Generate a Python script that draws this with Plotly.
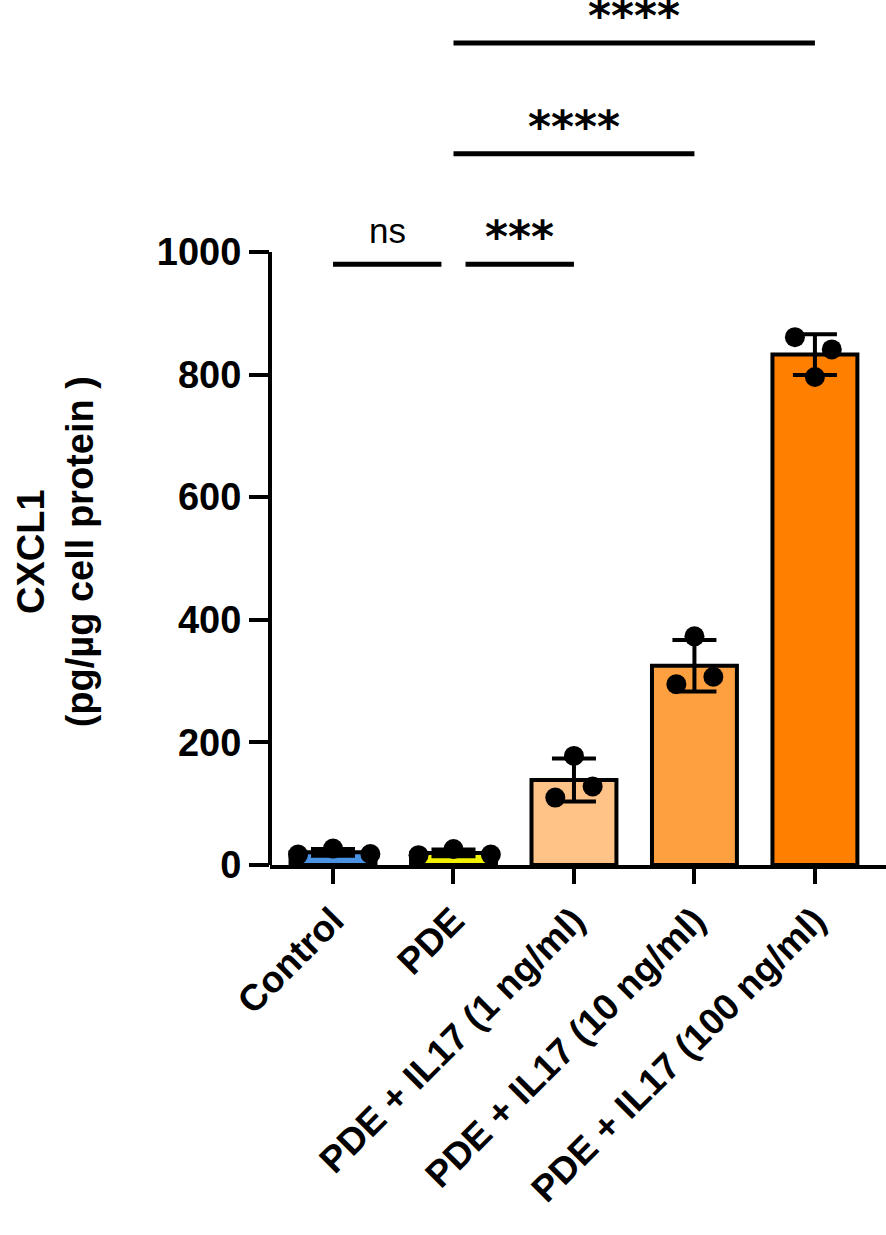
"""CXCL1 release after PDE and IL17 stimulation: bar chart with replicate dots."""

import numpy as np
import plotly.graph_objects as go

# groups on the x axis
groups = ["Control", "PDE", "PDE + IL17 (1 ng/ml)",
          "PDE + IL17 (10 ng/ml)", "PDE + IL17 (100 ng/ml)"]
bar_colors = ["#4A92E4", "#F2F200", "#FFC287", "#FFA040", "#FF8000"]

# three replicates per group (pg/ug cell protein)
control = [17, 27, 18]
pde = [16, 26, 17]
il17_1 = [110, 178, 128]
il17_10 = [295, 373, 307]
il17_100 = [861, 796, 841]
replicates = [control, pde, il17_1, il17_10, il17_100]

# horizontal scatter of the dots inside each bar
jitter = [[-0.29, 0, 0.31], [-0.29, 0, 0.31], [-0.155, 0, 0.155],
          [-0.15, 0, 0.157], [-0.166, 0, 0.14]]

y_ticks = [0, 200, 400, 600, 800, 1000]

# significance brackets: (start group, end group, height, label)
brackets = [
    (0, 0.9, 980, "ns"),
    (1.1, 2, 980, "***"),
    (1, 3, 1160, "****"),
    (1, 4, 1341, "****"),
]

FONT = "Arial, Liberation Sans, sans-serif"

means = [np.mean(r) for r in replicates]
sds = [np.std(r, ddof=1) for r in replicates]
idx = list(range(len(groups)))

fig = go.Figure()
fig.add_bar(
    x=idx, y=means, width=0.705,
    marker=dict(color=bar_colors, line=dict(color="black", width=4)),
    error_y=dict(type="data", array=sds, visible=True,
                 color="black", thickness=4, width=22),
    showlegend=False,
)

dot_x, dot_y = [], []
for i, (vals, offs) in enumerate(zip(replicates, jitter)):
    for v, o in zip(vals, offs):
        dot_x.append(i + o)
        dot_y.append(v)
fig.add_scatter(x=dot_x, y=dot_y, mode="markers",
                marker=dict(color="black", size=20), showlegend=False,
                cliponaxis=False)

# y axis line only over the 0-1000 span
fig.add_shape(type="line", xref="paper", yref="y", x0=0, x1=0,
              y0=0, y1=y_ticks[-1], line=dict(color="black", width=4))

for x0, x1, h, label in brackets:
    fig.add_shape(type="line", xref="x", yref="y", x0=x0, x1=x1, y0=h, y1=h,
                  line=dict(color="black", width=5))
    if label == "ns":
        font = dict(family=FONT, size=35, color="black")
        text, shift = label, 12
    else:
        font = dict(family="DejaVu Sans", size=44, color="black")
        text, shift = f"<b>{label}</b>", 0
    fig.add_annotation(x=(x0 + x1) / 2, y=h, text=text, showarrow=False,
                       yanchor="bottom", yshift=shift, font=font)

fig.add_annotation(
    xref="paper", yref="y", x=0, y=510, xshift=-215,
    xanchor="center", yanchor="middle",
    text="<b>CXCL1<br>(pg/µg cell protein )</b>", textangle=-90,
    showarrow=False, font=dict(family=FONT, size=38, color="black"),
)

fig.update_layout(
    width=886, height=1235,
    margin=dict(l=270, r=0, t=0, b=370),
    paper_bgcolor="white", plot_bgcolor="white",
    font=dict(family=FONT, color="black"),
)
fig.update_xaxes(
    range=[-0.523, 4.59], tickvals=idx, ticktext=[f"<b>{g}</b>" for g in groups],
    tickangle=-45, tickfont=dict(family=FONT, size=37, color="black"),
    showline=True, linecolor="black", linewidth=4,
    ticks="outside", ticklen=15, tickwidth=4, tickcolor="black",
    showgrid=False, zeroline=False,
)
fig.update_yaxes(
    range=[0, 1411], tickvals=y_ticks,
    ticktext=[f"<b>{t}</b>" for t in y_ticks],
    tickfont=dict(family=FONT, size=38, color="black"),
    showline=False, ticks="outside", ticklen=20, tickwidth=4,
    tickcolor="black", showgrid=False, zeroline=False,
)

fig.write_html("out.html", config={"displayModeBar": False},
               post_script="document.body.style.margin = '0';")
